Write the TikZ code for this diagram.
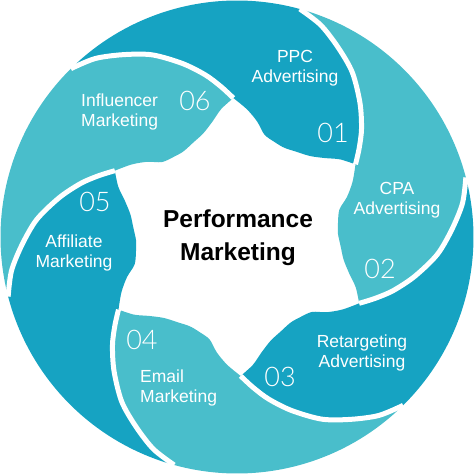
\documentclass[tikz,border=0pt]{standalone}
\usepackage{fontspec}
\setmainfont{Liberation Sans}
\IfFontExistsTF{Lato Light}{\newfontfamily\numfont{Lato Light}}{\newfontfamily\numfont{Liberation Sans}}
\definecolor{dk}{RGB}{22,163,194}
\definecolor{lt}{RGB}{73,190,203}
\tikzset{
  lbl/.style={text=white, font=\fontsize{17.5}{20.5}\selectfont, align=center, inner sep=0pt},
  lbll/.style={text=white, font=\fontsize{17.5}{20.5}\selectfont, align=left, inner sep=0pt},
  num/.style={text=white, font=\numfont\fontsize{27}{27}\selectfont, inner sep=0pt},
  gap/.style={white, line width=5pt}
}
\begin{document}
\begin{tikzpicture}[x=1pt,y=1pt]
\useasboundingbox (-237,-237) rectangle (237,237);
\foreach \k/\c in {0/dk,1/lt,2/dk,3/lt,4/dk,5/lt}{
  \begin{scope}[rotate=-60*\k]
  \fill[\c] (134.6:236.5) arc[start angle=134.6,end angle=74.6,radius=236.5]
    -- plot[smooth] coordinates {(74.6:236.5) (68.5:228) (62:215) (55:201) (47.5:182) (41:165) (36:151) (31.5:139)}
    -- plot[smooth] coordinates {(31.5:139) (37:129) (42:118) (48:109) (55:104) (62:101) (68:102) (75:106) (80:117) (85.5:128) (91.5:139)}
    -- plot[smooth] coordinates {(91.5:139) (96:151) (101:165) (107.5:182) (115:201) (122:215) (128.5:228) (134.6:236.5)}
    -- cycle;
  \end{scope}
}
\foreach \k in {0,...,5}{
  \begin{scope}[rotate=-60*\k]
  \draw[gap] plot[smooth] coordinates {(74.6:236.5) (68.5:228) (62:215) (55:201) (47.5:182) (41:165) (36:151) (31.5:139)};
  \end{scope}
}
\node[lbl] (ppc) at (58,169) {PPC\\Advertising};
\node[num] (n1) at (96,104) {01};
\node[lbl] (cpa) at (160,37) {CPA\\Advertising};
\node[num] (n2) at (143,-32) {02};
\node[lbl] (ret) at (125,-116) {Retargeting\\Advertising};
\node[num] (n3) at (43,-140) {03};
\node[num] (n4) at (-95,-103) {04};
\node[lbll, anchor=west] (email) at (-97,-151) {Email\\Marketing};
\node[num] (n5) at (-142,35) {05};
\node[lbl] (aff) at (-163,-16) {Affiliate\\Marketing};
\node[lbll, anchor=west] (inf) at (-156,125) {Influencer\\Marketing};
\node[num] (n6) at (-42,136) {06};
\node[font=\bfseries\fontsize{24.5}{33}\selectfont, align=center, inner sep=0pt] (title) at (1,-1) {Performance\\Marketing};
\end{tikzpicture}
\end{document}
